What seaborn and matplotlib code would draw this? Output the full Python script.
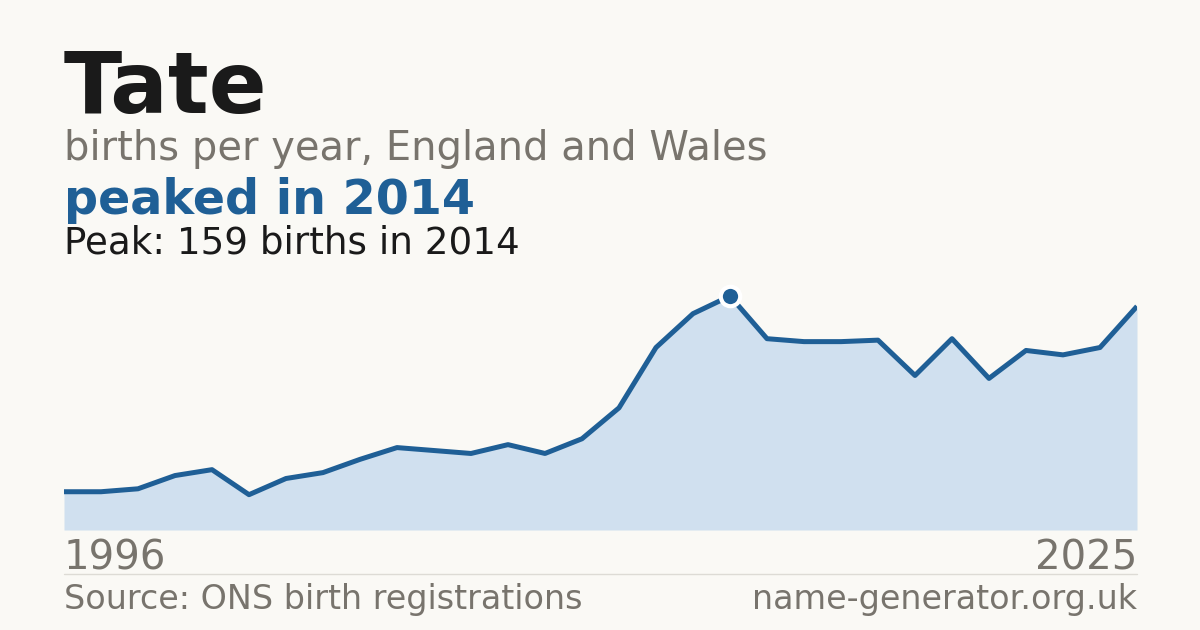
import seaborn as sns
import matplotlib.pyplot as plt
import pandas as pd

years = list(range(1996, 2026))
births = [26, 26, 28, 37, 41, 24, 35, 39, 48, 56, 54, 52, 58, 52, 62,
          83, 124, 147, 159, 130, 128, 128, 129, 105, 130, 103, 122, 119, 124, 152]

name = "Tate"
subtitle = "births per year, England and Wales"
headline = "peaked in 2014"
peak_note = "Peak: 159 births in 2014"
source = "Source: ONS birth registrations"
site = "name-generator.org.uk"

df = pd.DataFrame({"year": years, "births": births})

bg = "#faf9f5"
blue = "#1f5f96"
fill = "#d0e0ef"
grey = "#78746d"

sns.set_theme(style="white")
plt.rcParams["font.family"] = ["DejaVu Sans"]

fig = plt.figure(figsize=(12, 6.3), dpi=100)
fig.patch.set_facecolor(bg)

# chart area: x 64..1137 px, baseline at y=530, top at y=280
ax = fig.add_axes([64 / 1200, 100 / 630, 1073 / 1200, 250 / 630])
ax.set_facecolor(bg)
ax.fill_between(df["year"], df["births"], 0, color=fill, lw=0)
sns.lineplot(data=df, x="year", y="births", ax=ax, color=blue, lw=3.6,
             solid_joinstyle="round", solid_capstyle="butt")

peak = df.loc[df["births"].idxmax()]
ax.plot(peak["year"], peak["births"], "o", ms=14, color=blue,
        mec="white", mew=3, zorder=5)

ax.set_xlim(years[0], years[-1])
ax.set_ylim(0, 159 * 250 / 234)
ax.set_axis_off()

# header text
fig.text(64 / 1200, 1 - 113 / 630, name, fontsize=61.5, fontweight="bold",
         color="#1a1a1a", va="baseline")
fig.text(64 / 1200, 1 - 160 / 630, subtitle, fontsize=28.8, color=grey,
         va="baseline")
fig.text(64 / 1200, 1 - 214 / 630, headline, fontsize=34.3, fontweight="bold",
         color=blue, va="baseline")
fig.text(64 / 1200, 1 - 253 / 630, peak_note, fontsize=26.8, color="#1a1a1a",
         va="baseline")

# year labels
fig.text(64 / 1200, 1 - 570 / 630, str(years[0]), fontsize=29, color=grey,
         va="baseline")
fig.text(1137 / 1200, 1 - 570 / 630, str(years[-1]), fontsize=29, color=grey,
         va="baseline", ha="right")

# divider and footer
fig.add_artist(plt.Line2D([64 / 1200, 1137 / 1200], [1 - 574 / 630] * 2,
                          color="#dddbd5", lw=1))
fig.text(64 / 1200, 1 - 609 / 630, source, fontsize=24, color=grey,
         va="baseline")
fig.text(1137 / 1200, 1 - 609 / 630, site, fontsize=24, color=grey,
         va="baseline", ha="right")

fig.savefig("out.png", dpi=100, facecolor=bg)
